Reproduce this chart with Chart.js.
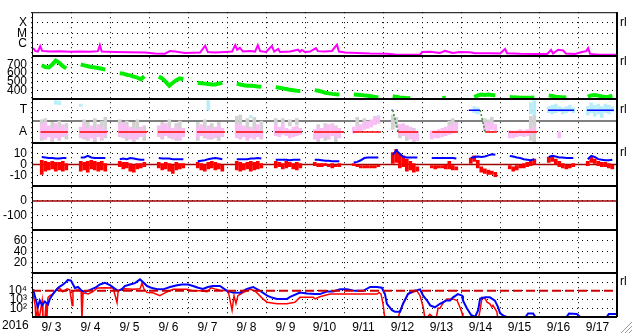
<!DOCTYPE html>
<html>
<head>
<meta charset="utf-8">
<script src="https://cdn.jsdelivr.net/npm/chart.js@4.4.1/dist/chart.umd.min.js"></script>
<style>
  html, body { margin: 0; padding: 0; background: #fff; }
  #wrap { width: 633px; height: 334px; }
</style>
</head>
<body>
<div id="wrap"><canvas id="chart" width="633" height="334"></canvas></div>
<script>
// ---- axis text ----
const yearLabel = '2016';
const dayLabels = ['9/ 3', '9/ 4', '9/ 5', '9/ 6', '9/ 7', '9/ 8', '9/ 9', '9/10',
                   '9/11', '9/12', '9/13', '9/14', '9/15', '9/16', '9/17'];

// time of each 8-bin sample inside a day (fraction of day)
const binTimes = [0.25, 0.34, 0.43, 0.52, 0.61, 0.70, 0.79, 0.88];

// ---- X-ray flux, in units of 1e-7 W/m2 (C = 10, M = 100, X = 1000) ----
const xrayDay = [0.03,0.08,0.15,0.21,0.26,0.46,0.72,0.97,1.23,1.49,1.69,1.74,1.79,2.13,2.51,2.90,
  3.15,3.41,3.54,3.67,3.92,4.31,4.44,4.51,4.69,4.95,5.13,5.21,5.26,5.33,5.41,5.59,5.72,5.79,5.85,
  6.0,6.15,6.21,6.31,6.36,6.62,6.82,6.87,6.92,7.0,7.13,7.28,7.33,7.51,7.69,7.82,7.87,8.03,8.33,
  8.67,9.10,9.31,9.69,9.95,10.0,10.21,10.46,10.59,10.79,10.97,11.23,11.36,11.74,12.0,12.13,12.18,
  12.51,12.9,13.21,13.31,13.36,13.49,13.62,13.69,13.92,14.10,14.21,14.26,14.31,14.56,15.0];
const xrayFlux = [4.3,2.3,2.0,6.6,2.3,2.0,2.1,1.9,2.0,1.9,2.2,8.0,2.0,1.8,1.7,1.6,
  1.3,1.25,2.3,2.0,1.5,1.6,7.0,1.8,1.6,1.8,2.0,8.0,3.0,4.5,2.0,2.3,2.0,8.0,2.2,
  1.8,6.6,2.0,3.5,1.8,2.0,3.0,1.9,2.8,1.8,2.0,4.3,2.2,2.0,2.3,9.0,2.0,1.6,1.5,
  1.3,1.25,1.05,1.0,1.0,1.8,1.9,1.5,2.3,1.5,1.8,1.7,1.4,1.4,1.3,3.5,1.4,
  1.25,1.2,1.2,2.8,1.3,3.0,2.5,1.3,1.2,1.8,2.2,4.3,1.2,1.0,1.0];

// ---- solar wind speed (km/s), 8 bins per day ----
const speedByDay = [
  [690,670,665,700,745,720,680,655],
  [700,690,680,670,665,660,650,640],
  [600,595,580,575,560,550,530,565],
  [560,540,500,455,490,520,540,530],
  [490,485,480,475,470,470,480,490],
  [480,470,462,456,455,452,448,445],
  [440,432,425,418,410,404,398,395],
  [405,398,388,375,368,362,358,355],
  [355,352,348,345,340,335,328,320],
  [335,328,322,318,312,315,null,null],
  [null,null,null,315,318,null,null,null],
  [null,325,345,355,350,355,350,345],
  [325,322,320,318,318,318,319,320],
  [345,338,330,325,322,320,null,null],
  [330,345,350,342,332,326,330,340]
];

// ---- IMF longitude (deg): A ~ 90, T ~ 270 ----
const pinkByDay = [
  [[40,150],[30,170],[50,140],[20,120],[40,160],[30,130],[50,150],[60,120]],
  [[40,130],[50,160],[30,120],[40,140],[20,110],[50,150],[30,130],[60,110]],
  [[60,150],[40,170],[50,140],[30,130],[20,120],[40,110],[50,130],[60,100]],
  [[50,140],[40,150],[60,160],[50,130],[30,120],[40,140],[20,110],[50,120]],
  [[40,130],[60,150],[50,120],[30,140],[50,110],[40,130],[60,140],[50,120]],
  [[40,160],[30,150],[50,140],[20,120],[40,130],[30,110],[50,150],[40,100]],
  [[60,150],[50,130],[70,160],[60,120],[40,110],[50,130],[60,140],[70,120]],
  [[30,110],[20,130],[40,120],[50,140],[30,150],[60,160],[50,130],[40,120]],
  [[80,130],[90,140],[100,150],[110,170],[120,180],[130,190],[150,210],[160,220]],
  [null,null,[70,150],[60,160],[50,140],[30,130],[20,110],[20,90]],
  [[30,100],[40,100],[40,110],[50,120],[60,130],[70,140],[80,160],[90,170]],
  [null,null,null,null,[100,170],[90,160],[110,170],[100,150]],
  [[40,100],[40,90],[50,100],[60,110],[50,100],[60,110],[70,120],[80,130]],
  [null,null,null,[40,90],null,null,null,null],
  []
];
const grayByDay = [
  [[20,190],[30,200],null,[10,170],null,[20,180],null,[30,160]],
  [null,[30,190],[20,170],null,[10,200],null,[20,180],[40,210]],
  [[50,190],null,[20,180],null,[10,170],[30,190],null,[20,140]],
  [null,[30,170],null,[40,190],null,[20,160],[30,180],null],
  [[20,170],null,[40,190],null,[30,160],null,[20,170],null],
  [[80,220],[60,230],null,[40,200],null,[60,210],null,[30,180]],
  [[150,200],null,[160,200],null,[140,190],null,[150,200],null],
  [null,[10,150],null,[20,160],null,null,[10,140],null],
  [null,[140,210],null,[150,200],null,null,[160,220],null],
  [[110,230],[130,210],[40,150],null,[20,140],null,[10,120],null],
  [null,null,null,null,null,[130,180],[140,200],null],
  [null,null,null,null,[140,200],[130,190],[150,210],null],
  [null,null,null,null,null,null,[20,220],[10,230]],
  [],
  []
];
const cyanByDay = [
  [null,null,null,null,[320,350],[315,345],null,null],
  [[300,320],null,null,null,null,null,null,null],
  [],
  [],
  [null,null,null,[270,350],null,null,null,null],
  [null,null,null,null,[205,225],null,null,null],
  [],
  [],
  [null,null,null,null,null,null,null,[205,225]],
  [],
  [],
  [null,[250,300],[240,290],null,null,null,null,null],
  [null,null,null,null,null,null,[240,330],[230,350]],
  [[250,300],[240,310],[250,320],[260,300],[240,290],[250,300],[260,310],[250,290]],
  [[230,300],[250,330],[220,310],[240,320],[210,300],[250,320],[240,310],[260,300]]
];
// sector polarity: 90 = away, 270 = toward
const sectorDay = [0.22,0.92,0.95, 1.22,1.92,1.95, 2.22,2.95,2.97, 3.23,3.92,3.95,
  4.23,4.95,4.97, 5.23,5.92,5.95, 6.23,6.92,6.95, 7.23,8.0,8.05, 8.23,8.95,8.97,
  9.22,9.25,9.39,9.9,9.95, 10.26,10.92,10.95, 11.2,11.49,11.62,11.92,11.95,
  12.23,12.95,12.97, 13.23,13.9,13.95, 14.23,14.92];
const sectorVal = [90,90,null, 90,90,null, 90,90,null, 90,90,null,
  90,90,null, 90,90,null, 90,90,null, 90,90,null, 90,90,null,
  270,270,90,90,null, 90,90,null, 270,270,90,90,null,
  90,90,null, 270,270,null, 270,270];
const sectorBoundary = 180;

// ---- IMF Bt / Bz (nT) ----
const btByDay = [
  [7,6.5,6,6,5.5,5.5,6,6],
  [6.5,6.5,8,6.5,6,6,6,6],
  [5,5.5,5,6,5.5,5,4.5,4.5],
  [6,5.5,5.5,5.5,5,5,5,5],
  [3,3.5,4,5,5.5,6,5.5,5],
  [5,5,5,5,5.5,5.5,6,5.5],
  [4.5,4.5,4.5,4.5,4,4.5,4.5,4.5],
  [4.5,4.5,4,3.5,3.5,3,3,3],
  [2,2.5,4,6,6.5,6.5,6.5,6.5],
  [9,13,10,7,6.5,6.5,6.5,6.5],
  [6,6,6,6,6,6,6,5.5],
  [6,7,7.5,7,7.5,8.5,9.5,9],
  [8,7.5,6.5,6,5,4.5,4,5],
  [7,8,7.5,6.5,6.5,6,6,6],
  [5,8,7,5,4.5,4,4,4.5]
];
const bzByDay = [
  [[-9,4],[-6,3],[-5,2],[-4,3],[-6,2],[-5,2],[-6,3],[-5,1]],
  [[-6,3],[-5,2],[-7,3],[-4,4],[-5,3],[-6,2],[-5,3],[-6,1]],
  [[-2,3],[-4,2],[-3,2],[-6,1],[-7,0],[-4,1],[-3,1],[-2,2]],
  [[-3,2],[-5,1],[-4,2],[-6,1],[-8,0],[-5,2],[-4,1],[-3,1]],
  [[-3,2],[-5,1],[-6,0],[-4,2],[-3,3],[-5,2],[-4,1],[-6,0]],
  [[-5,3],[-6,2],[-5,1],[-4,2],[-6,3],[-5,2],[-4,3],[-3,1]],
  [[-3,3],[-2,2],[-4,1],[-3,3],[-2,2],[-4,1],[-5,2],[-3,1]],
  [[-1,2],[-2,1],[-2,1],[-1,1],[-2,0],[-3,1],[-2,0],[-2,1]],
  [[-1,1],[-2,0],[-3,-1],[-3,-1],[-3,-1],[-3,-1],[-3,-1],[-2,0]],
  [[1,11],[2,14],[-3,10],[-2,8],[-6,5],[-5,3],[-7,1],[-6,-2]],
  [[-3,-1],[-4,-1],[-3,-1],[-3,-1],[-4,0],[-4,3],[-5,-1],[-5,-2]],
  [[1,6],[3,8],[-3,4],[-7,-2],[-8,-4],[-9,-5],[-9,-6],[-11,-7]],
  [[-4,-1],[-6,-2],[-5,-1],[-3,0],[-3,1],[-2,2],[-1,3],[0,5]],
  [[2,7],[3,8],[0,5],[-2,3],[-3,1],[-4,0],[-3,0],[-2,1]],
  [[-1,3],[2,7],[1,5],[-1,3],[-2,2],[-2,2],[-3,1],[-4,0]]
];
const bzZero = 0;
const dstLevel = 0;

// ---- >2 MeV electron flux ----
const eBlueDay = [0.03,0.08,0.15,0.2,0.26,0.33,0.41,0.46,0.54,0.67,0.77,0.85,0.92,1.0,1.1,
  1.18,1.28,1.38,1.49,1.62,1.74,1.87,2.0,2.13,2.21,2.31,2.38,2.51,2.64,2.77,2.85,2.95,3.08,3.21,
  3.36,3.54,3.72,3.85,4.0,4.13,4.26,4.38,4.51,4.64,4.82,5.0,5.15,5.33,5.51,5.67,5.85,6.03,6.15,
  6.28,6.54,6.62,6.87,7.05,7.26,7.38,7.56,7.72,7.9,8.08,8.28,8.49,8.67,8.85,8.97,9.05,9.1,9.23,
  9.31,9.44,9.51,9.64,9.77,9.87,9.95,10.03,10.13,10.21,10.33,10.46,10.62,10.72,10.79,10.92,11.03,
  11.05,11.15,11.26,11.36,11.44,11.49,11.62,11.74,11.87,11.95,12.0,12.1,12.26,12.64,12.72,12.85,
  12.92,13.69,13.77,13.97,14.08,14.72,14.79,15.0];
const eBlueFlux = [15000,2000,140,770,215,600,280,1300,4500,23000,45000,84000,180000,150000,21000,
  28000,10000,8000,13000,23000,55000,84000,45000,17000,10000,17000,36000,55000,78000,210000,100000,36000,21000,15000,
  15000,28000,45000,55000,55000,36000,23000,17000,28000,36000,36000,10000,6500,6000,17000,28000,10000,2800,1700,
  1200,1200,2100,6500,5000,4300,4300,8400,8400,15000,15000,10000,10000,28000,28000,23000,4300,330,60,
  39,39,330,4300,10000,12000,15000,2800,770,215,130,330,770,770,1700,4300,2800,
  770,100,17,10,60,1300,1800,1800,770,140,28,13,8,8,25,25,
  8,8,25,22,8,8,22,22];
const eRedDay = [0.03,0.08,0.1,0.15,0.18,0.26,0.28,0.33,0.36,0.38,0.41,0.46,0.54,0.64,0.72,0.79,0.9,
  0.97,1.03,1.05,1.18,1.26,1.28,1.31,1.44,1.56,1.67,1.87,2.08,2.18,2.21,2.38,2.59,2.77,2.82,2.87,2.95,
  3.1,3.28,3.41,3.62,3.97,4.13,4.31,4.49,4.59,4.69,4.82,5.03,5.13,5.18,5.23,5.28,5.41,5.59,5.72,5.92,
  6.03,6.28,6.54,6.74,6.87,7.21,7.26,7.38,7.64,7.9,8.41,8.85,8.9,8.95,9.0,9.05,9.38,9.44,9.56,9.64,
  9.87,9.95,10.03,10.08,10.2,10.36,10.41,10.46,10.54,10.64,10.79,10.9,10.97,11.03,11.05,11.44,11.49,11.54,
  11.62,11.67,11.74,11.79,11.82,11.92,11.95,15.0];
const eRedFlux = [4300,215,5,60,5,770,5,5,350,5,1700,2800,4500,17000,17000,8000,17000,
  13000,215,10000,13000,8000,5,6000,4500,8000,21000,23000,21000,460,10000,17000,15000,17000,84000,17000,6500,
  6000,2800,6000,15000,15000,10000,10000,8000,23000,17000,12000,10000,60,2800,350,2800,6500,15000,10000,1200,
  500,330,330,500,1800,1800,1200,2100,4300,4300,4300,4300,6500,4300,330,5,5,60,770,4300,
  10000,2800,140,5,20,5,100,100,400,1200,1200,770,140,28,5,5,60,1800,
  1200,500,330,140,215,39,5,5];
const fluxAlert = 10000;

// ---- helpers ----
function pts(days, vals) {
  return days.map((d, i) => ({ x: d, y: vals[i] }));
}
function dailyLine(byDay) {
  const out = [];
  byDay.forEach((bins, d) => {
    bins.forEach((v, i) => out.push({ x: d + binTimes[i], y: v }));
    out.push({ x: d + 0.96, y: null });
  });
  return out;
}
function dailyBars(byDay) {
  const out = [];
  byDay.forEach((bins, d) => {
    bins.forEach((v, i) => { if (v) out.push({ x: d + binTimes[i], y: v }); });
  });
  return out;
}
function flat(v) {
  return [{ x: 0, y: v }, { x: dayLabels.length, y: v }];
}

const FONT = { family: '"Liberation Sans", Arial, sans-serif', size: 12 };
const DOT = [1, 4];

function panel(min, max, tickVals, labelOf, type) {
  return {
    type: type || 'linear',
    position: 'left',
    stack: 'panels',
    stackWeight: 1,
    min: min,
    max: max,
    offset: false,
    border: { display: false, dash: DOT },
    grid: { color: '#000', lineWidth: 1, drawTicks: false },
    ticks: {
      color: '#000', font: FONT, padding: 5, autoSkip: false,
      callback: (v) => labelOf(v)
    },
    afterBuildTicks: s => { s.ticks = tickVals.map(v => ({ value: v })); },
    afterFit: s => { s.width = 32; }
  };
}

const line = (data, axis, color, width, order, extra) => Object.assign({
  type: 'line', data: data, yAxisID: axis, borderColor: color, borderWidth: width,
  pointRadius: 0, tension: 0, spanGaps: false, order: order
}, extra || {});
const bars = (data, axis, color, order) => ({
  type: 'bar', data: data, yAxisID: axis, backgroundColor: color, borderWidth: 0,
  barThickness: 3, grouped: false, order: order
});

const rlMarks = [['y1', 1000], ['y2', 735], ['y3', 270], ['y4', 11], ['y7', 1e5]];
const panelIds = ['y1', 'y2', 'y3', 'y4', 'y5', 'y6', 'y7'];

const framePlugin = {
  id: 'frame',
  afterDatasetsDraw(chart) {
    const { ctx, chartArea: a, scales } = chart;
    ctx.save();
    ctx.strokeStyle = '#000';
    ctx.lineWidth = 2;
    panelIds.forEach(id => {
      const y = Math.round(scales[id].bottom);
      ctx.beginPath(); ctx.moveTo(a.left, y); ctx.lineTo(a.right, y); ctx.stroke();
    });
    ctx.lineWidth = 1;
    ctx.strokeRect(a.left + 0.5, a.top + 0.5, a.right - a.left - 1, a.bottom - a.top - 1);
    ctx.lineWidth = 2;
    ctx.beginPath(); ctx.moveTo(a.right, a.top); ctx.lineTo(a.right, a.bottom); ctx.stroke();

    ctx.fillStyle = '#000';
    ctx.font = '12px "Liberation Sans", Arial, sans-serif';
    ctx.textBaseline = 'middle';
    ctx.textAlign = 'left';
    rlMarks.forEach(([id, v]) => {
      ctx.fillText('rl', a.right + 3, scales[id].getPixelForValue(v));
    });
    ctx.fillText(yearLabel, 2, a.bottom + 9);

    // window resize grip
    ctx.strokeStyle = '#9a9a9a';
    ctx.lineWidth = 1;
    for (let k = 0; k < 3; k++) {
      const o = 4 + k * 4;
      ctx.beginPath(); ctx.moveTo(633 - o, 333); ctx.lineTo(632, 333 - o + 1); ctx.stroke();
    }
    ctx.restore();
  }
};

new Chart(document.getElementById('chart'), {
  type: 'line',
  data: {
    datasets: [
      // panel 1: X-ray
      line(pts(xrayDay, xrayFlux), 'y1', '#ff00ff', 2, 2),
      // panel 2: speed
      line(dailyLine(speedByDay), 'y2', '#00ee00', 4, 2),
      // panel 3: sector
      line(flat(sectorBoundary), 'y3', '#808080', 2, 20),
      bars(dailyBars(grayByDay), 'y3', '#d2d2d2', 19),
      bars(dailyBars(cyanByDay), 'y3', '#b8eefa', 18),
      bars(dailyBars(pinkByDay), 'y3', '#f9bff4', 17),
      line(pts(sectorDay, sectorVal), 'y3', '#ff0000', 1.5, 3, {
        segment: {
          borderColor: c => c.p0.parsed.y !== c.p1.parsed.y ? '#3a8a3a'
            : (c.p0.parsed.y > sectorBoundary ? '#0000ff' : '#ff0000'),
          borderDash: c => c.p0.parsed.y !== c.p1.parsed.y ? [2, 2] : undefined
        }
      }),
      // panel 4: IMF
      line(flat(bzZero), 'y4', '#a00000', 1.5, 16),
      bars(dailyBars(bzByDay), 'y4', '#ff0000', 5),
      line(dailyLine(btByDay), 'y4', '#0000ff', 2, 4),
      // panel 5
      line(flat(dstLevel), 'y5', '#a00000', 1.5, 6),
      // panel 7: electrons
      line(pts(eRedDay, eRedFlux), 'y7', '#ff0000', 1.5, 8),
      line(pts(eBlueDay, eBlueFlux), 'y7', '#0000ff', 2, 7),
      line(flat(fluxAlert), 'y7', '#cc0000', 2, 1, { borderDash: [9, 4] })
    ]
  },
  options: {
    responsive: false,
    animation: false,
    devicePixelRatio: 1,
    layout: { padding: { top: 2, right: 16, bottom: 0, left: 0 }, autoPadding: false },
    plugins: { legend: { display: false }, tooltip: { enabled: false } },
    scales: {
      x: {
        type: 'linear', min: 0, max: dayLabels.length, offset: false,
        border: { display: false, dash: DOT },
        grid: { color: '#000', lineWidth: 1, drawTicks: false, offset: true },
        ticks: {
          color: '#000', font: FONT, padding: 3, autoSkip: false, maxRotation: 0,
          callback: (v, i) => dayLabels[i]
        },
        afterBuildTicks: s => { s.ticks = dayLabels.map((_, i) => ({ value: i + 0.5 })); },
        afterFit: s => { s.height = 17; }
      },
      // stacked left axes are laid out bottom-up, so the bottom panel comes first
      y7: panel(10, 1e6, [100, 1000, 10000, 100000],
        v => ({ 100: '10²', 1000: '10³', 10000: '10⁴' })[v] || '', 'logarithmic'),
      y6: panel(0, 80, [20, 40, 60], v => String(v)),
      y5: panel(-200, 100, [-100, 0], v => String(v)),
      y4: panel(-20, 20, [-10, 0, 10], v => String(v)),
      y3: panel(0, 360, [90, 270], v => (v === 90 ? 'A' : 'T')),
      y2: panel(300, 800, [400, 500, 600, 700], v => String(v)),
      y1: panel(0.81, 10000, [10, 100, 1000], v => ({ 10: 'C', 100: 'M', 1000: 'X' })[v], 'logarithmic')
    }
  },
  plugins: [framePlugin]
});
</script>
</body>
</html>
